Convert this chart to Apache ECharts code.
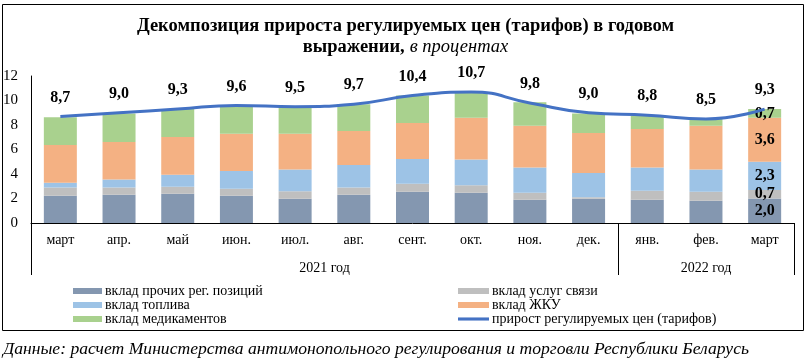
<!DOCTYPE html>
<html><head><meta charset="utf-8">
<script src="https://cdn.jsdelivr.net/npm/echarts@6/dist/echarts.min.js"></script>
<style>html,body{margin:0;padding:0;background:#fff}#c{width:811px;height:361px}</style>
</head><body><div id="c"></div>
<script>
var categories = ['март','апр.','май','июн.','июл.','авг.','сент.','окт.','ноя.','дек.','янв.','фев.','март'];
var yearGroups = ['2021 год','2022 год'];
var yearSpans = [10, 3];
var otherVals   = [2.22, 2.30, 2.38, 2.22, 1.98, 2.30, 2.55, 2.47, 1.90, 1.98, 1.90, 1.82, 2.0];
var commVals    = [0.68, 0.60, 0.57, 0.57, 0.62, 0.60, 0.65, 0.62, 0.57, 0.13, 0.73, 0.73, 0.7];
var fuelVals    = [0.38, 0.65, 0.98, 1.46, 1.76, 1.84, 2.03, 2.09, 2.06, 1.98, 1.90, 1.81, 2.3];
var housingVals = [3.09, 3.06, 3.09, 3.04, 2.93, 2.77, 2.93, 3.41, 3.41, 3.25, 3.14, 3.58, 3.6];
var medVals     = [2.27, 2.33, 2.28, 2.25, 2.20, 2.19, 2.25, 2.06, 1.92, 1.60, 1.08, 0.54, 0.7];
var totalVals   = [8.7, 9.0, 9.3, 9.6, 9.5, 9.7, 10.4, 10.7, 9.8, 9.0, 8.8, 8.5, 9.3];
var yTicks = [0, 2, 4, 6, 8, 10, 12];
var seriesNames = ['вклад прочих рег. позиций','вклад услуг связи','вклад топлива','вклад ЖКУ','вклад медикаментов','прирост регулируемых цен (тарифов)'];

var FONT = '"Liberation Serif","Times New Roman",serif';
function fmt(v){ return Number(v).toFixed(1).replace('.', ','); }

var slots = [], tickIdx = [0], labelIdx = [];
var start = 0;
yearSpans.forEach(function(s, i){ labelIdx.push(2*start + s); start += s; tickIdx.push(2*start); });
for (var k = 0; k <= 2*categories.length; k++) {
  var li = labelIdx.indexOf(k);
  slots.push(li >= 0 ? yearGroups[li] : '');
}

var barDefs = [
  [seriesNames[0], otherVals, '#8497B0'],
  [seriesNames[1], commVals, '#BFBFBF'],
  [seriesNames[2], fuelVals, '#9DC3E6'],
  [seriesNames[3], housingVals, '#F4B183'],
  [seriesNames[4], medVals, '#A9D18E']
];
var lastIdx = categories.length - 1;
var series = barDefs.map(function(d){
  return {
    name: d[0], type: 'bar', stack: 'a', barWidth: 33, xAxisIndex: 0,
    itemStyle: {color: d[2]},
    data: d[1].map(function(v, i){
      return i === lastIdx ? {value: v, label: {show: true, position: 'inside', formatter: function(p){return fmt(p.value);}, color: '#000', fontFamily: FONT, fontWeight: 'bold', fontSize: 16}} : v;
    })
  };
});
series.push({
  name: seriesNames[5], type: 'line', smooth: 0.5, symbol: 'circle', symbolSize: 0, showSymbol: true, xAxisIndex: 0, z: 5,
  lineStyle: {color: '#4472C4', width: 3}, itemStyle: {color: '#4472C4'},
  label: {show: true, position: 'top', distance: 11, formatter: function(p){return fmt(p.value);}, color: '#000', fontFamily: FONT, fontWeight: 'bold', fontSize: 16},
  labelLayout: {hideOverlap: false},
  data: totalVals
});

var chart = echarts.init(document.getElementById('c'));
chart.setOption({
  animation: false,
  title: [{
    left: 'center', top: 16, padding: 0,
    text: '{b|Декомпозиция прироста регулируемых цен (тарифов) в годовом}\n{b|выражении,} {i|в процентах}',
    textStyle: {
      rich: {
        b: {fontFamily: FONT, fontWeight: 'bold', fontSize: 18.5, color: '#000', lineHeight: 21},
        i: {fontFamily: FONT, fontStyle: 'italic', fontWeight: 'normal', fontSize: 18.5, color: '#000', lineHeight: 21}
      }
    }
  }, {
    left: 3, top: 340, padding: 0,
    text: 'Данные: расчет Министерства антимонопольного регулирования и торговли Республики Беларусь',
    textStyle: {fontFamily: FONT, fontStyle: 'italic', fontWeight: 'normal', fontSize: 17.6, color: '#000'}
  }],
  graphic: [{type: 'rect', shape: {x: 2.5, y: 4.5, width: 801, height: 326}, style: {fill: 'none', stroke: '#000', lineWidth: 1}, silent: true}],
  legend: [{
    orient: 'vertical', left: 68, top: 279, itemWidth: 29, itemHeight: 6, itemGap: 0,
    data: [seriesNames[0], seriesNames[2], seriesNames[4]].map(function(n){return {name: n, icon: 'rect'};}),
    textStyle: {fontFamily: FONT, fontSize: 14, color: '#000', padding: [0,0,0,-2]}
  }, {
    orient: 'vertical', left: 453, top: 279, itemWidth: 31, itemHeight: 6, itemGap: 0,
    data: [{name: seriesNames[1], icon: 'rect'}, {name: seriesNames[3], icon: 'rect'}, {name: seriesNames[5], icon: 'path://M0,0 L30,0 L30,3 L0,3 Z'}],
    textStyle: {fontFamily: FONT, fontSize: 14, color: '#000', padding: [0,0,0,-2]}
  }],
  grid: {left: 30.5, right: 17, top: 76, bottom: 138, containLabel: false},
  xAxis: [{
    type: 'category', data: categories, position: 'bottom',
    axisLine: {lineStyle: {color: '#000', width: 1}},
    axisTick: {show: false},
    axisLabel: {color: '#000', fontFamily: FONT, fontSize: 14, margin: 10, interval: 0}
  }, {
    type: 'category', data: slots, boundaryGap: false, position: 'bottom',
    axisLine: {show: false},
    axisTick: {show: true, length: 52, interval: function(i){return tickIdx.indexOf(i) >= 0;}, lineStyle: {color: '#000', width: 1}},
    axisLabel: {color: '#000', fontFamily: FONT, fontSize: 14, margin: 38, interval: function(i){return labelIdx.indexOf(i) >= 0;}}
  }],
  yAxis: {
    type: 'value', min: yTicks[0], max: yTicks[yTicks.length-1], interval: 2,
    axisLine: {show: true, lineStyle: {color: '#000', width: 1}},
    axisTick: {show: false}, splitLine: {show: false},
    axisLabel: {color: '#000', fontFamily: FONT, fontSize: 15, margin: 13}
  },
  series: series
});
</script></body></html>
